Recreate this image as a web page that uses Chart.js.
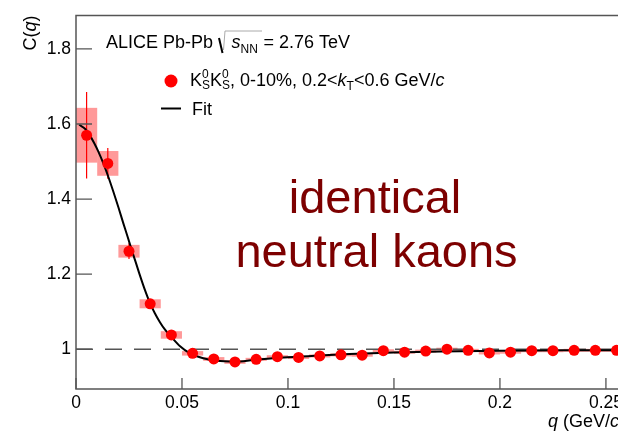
<!DOCTYPE html>
<html><head><meta charset="utf-8">
<script src="https://cdn.jsdelivr.net/npm/chart.js@4/dist/chart.umd.min.js"></script>
<style>
html,body{margin:0;padding:0;overflow:hidden;background:#fff;}
#wrap{width:650px;height:432px;}
</style></head><body>
<div id="wrap"><canvas id="c" width="650" height="432"></canvas></div>
<script>
// ---- data ----
const qCenters = [0.005,0.015,0.025,0.035,0.045,0.055,0.065,0.075,0.085,0.095,0.105,0.115,0.125,0.135,0.145,0.155,0.165,0.175,0.185,0.195,0.205,0.215,0.225,0.235,0.245,0.255];
const cValues  = [1.570,1.495,1.261,1.121,1.038,0.989,0.974,0.966,0.973,0.980,0.978,0.982,0.985,0.984,0.996,0.992,0.995,1.000,0.997,0.990,0.992,0.996,0.996,0.997,0.997,0.997];
const statErr  = [0.115,0.041,0.021,0.012,0.008,0.006,0.005,0.005,0.004,0.004,0.004,0.004,0.004,0.004,0.004,0.004,0.004,0.004,0.004,0.004,0.004,0.004,0.004,0.004,0.004,0.004];
const sysErr   = [0.073,0.033,0.017,0.012,0.010,0.006,0.005,0.005,0.004,0.004,0.004,0.004,0.004,0.004,0.004,0.004,0.004,0.004,0.004,0.004,0.004,0.004,0.004,0.004,0.004,0.004];
const binHalfWidth = 0.005;
const fitQ = [0.0015,0.0045,0.0066,0.0085,0.0105,0.0129,0.0152,0.0176,0.02,0.0223,0.0245,0.0263,0.0285,0.0302,0.0325,0.0349,0.0372,0.0396,0.042,0.0448,0.0491,0.0538,0.060,0.0664,0.075,0.0836,0.0978,0.115,0.129,0.15,0.172,0.2,0.23,0.259];
const fitC = [1.598,1.586,1.569,1.550,1.527,1.495,1.460,1.420,1.378,1.336,1.297,1.264,1.226,1.196,1.158,1.123,1.096,1.072,1.052,1.034,1.008,0.989,0.976,0.969,0.967,0.971,0.978,0.983,0.987,0.991,0.994,0.996,0.997,0.997];
const refLevel = 1;
const xTicks = [0,0.05,0.1,0.15,0.2,0.25];
const xTickLabels = ['0','0.05','0.1','0.15','0.2','0.25'];
const yTicks = [1,1.2,1.4,1.6,1.8];
const yTickLabels = ['1','1.2','1.4','1.6','1.8'];
const xRange = [0,0.259];
const yRange = [0.894,1.889];

const FONT = '"Liberation Sans", Arial, sans-serif';
function f(size, italic){ return (italic?'italic ':'') + size + 'px ' + FONT; }

function drawRuns(ctx, x, y, runs){
  for (const r of runs){
    if (r.stack){
      let w = 0;
      for (const s of r.stack){
        ctx.font = s.font; ctx.fillText(s.t, x, y + (s.dy||0));
        w = Math.max(w, ctx.measureText(s.t).width);
      }
      x += w;
    } else {
      ctx.font = r.font; ctx.fillText(r.t, x, y + (r.dy||0));
      x += ctx.measureText(r.t).width;
    }
  }
  return x;
}
function runsWidth(ctx, runs){
  let w=0; for(const r of runs){ctx.font=r.font; w+=ctx.measureText(r.t).width;} return w;
}

const decor = {
  id:'decor',
  beforeDatasetsDraw(chart){
    const {ctx, chartArea:a, scales:{x:xs, y:ys}} = chart;
    ctx.save();
    ctx.beginPath(); ctx.rect(a.left, a.top, a.right-a.left, a.bottom-a.top); ctx.clip();
    ctx.fillStyle = 'rgba(255,0,0,0.4)';
    qCenters.forEach((q,i)=>{
      const x0 = xs.getPixelForValue(q-binHalfWidth), x1 = xs.getPixelForValue(q+binHalfWidth);
      const y0 = ys.getPixelForValue(cValues[i]+sysErr[i]), y1 = ys.getPixelForValue(cValues[i]-sysErr[i]);
      ctx.fillRect(x0, y0, x1-x0, y1-y0);
    });
    ctx.strokeStyle = '#ff0000'; ctx.lineWidth = 1.2;
    qCenters.forEach((q,i)=>{
      const x = xs.getPixelForValue(q);
      ctx.beginPath();
      ctx.moveTo(x, ys.getPixelForValue(cValues[i]-statErr[i]));
      ctx.lineTo(x, ys.getPixelForValue(cValues[i]+statErr[i]));
      ctx.stroke();
    });
    ctx.restore();
  },
  afterDraw(chart){
    const {ctx, chartArea:a, scales:{x:xs, y:ys}} = chart;
    ctx.save();
    // frame
    ctx.strokeStyle = '#555'; ctx.lineWidth = 1.5;
    ctx.beginPath();
    ctx.moveTo(a.right, a.top); ctx.lineTo(a.left, a.top); ctx.lineTo(a.left, a.bottom); ctx.lineTo(a.right, a.bottom); ctx.lineTo(a.right, a.top);
    ctx.stroke();
    ctx.lineWidth = 1.3;
    ctx.beginPath();
    yTicks.forEach(v=>{ const y = ys.getPixelForValue(v); ctx.moveTo(a.left, y); ctx.lineTo(a.left+16, y); });
    xTicks.forEach(v=>{ const x = xs.getPixelForValue(v); ctx.moveTo(x, a.bottom); ctx.lineTo(x, a.bottom-11); });
    ctx.stroke();

    ctx.fillStyle = '#000'; ctx.textBaseline = 'alphabetic'; ctx.textAlign = 'left';
    // Y title
    ctx.save();
    ctx.translate(36, a.top);
    ctx.rotate(-Math.PI/2);
    const yRuns = [{t:'C(',font:f(18)},{t:'q',font:f(18,true)},{t:')',font:f(18)}];
    drawRuns(ctx, -runsWidth(ctx,yRuns), 0, yRuns);
    ctx.restore();
    // X title
    const xRuns = [{t:'q',font:f(18,true)},{t:' (GeV/',font:f(18)},{t:'c',font:f(18,true)},{t:')',font:f(18)}];
    drawRuns(ctx, a.right - runsWidth(ctx,xRuns), 427, xRuns);

    // ALICE header
    ctx.font = f(18); ctx.fillText('ALICE Pb-Pb', 106, 48);
    ctx.strokeStyle = '#000'; ctx.lineWidth = 2;
    ctx.beginPath(); ctx.moveTo(219, 38); ctx.lineTo(222.5, 53); ctx.stroke();
    ctx.lineWidth = 1; ctx.strokeStyle = '#aaa';
    ctx.beginPath(); ctx.moveTo(223.5, 50); ctx.lineTo(225, 31); ctx.lineTo(262, 31); ctx.stroke();
    drawRuns(ctx, 231.5, 48, [{t:'s',font:f(18,true)},{t:'NN',font:f(12),dy:5}]);
    ctx.font = f(18); ctx.fillText('= 2.76 TeV', 263.5, 48);

    // legend
    ctx.fillStyle = '#ff0000';
    ctx.beginPath(); ctx.arc(171, 81, 6.5, 0, Math.PI*2); ctx.fill();
    ctx.fillStyle = '#000';
    drawRuns(ctx, 190, 86, [
      {t:'K',font:f(18)},
      {stack:[{t:'0',font:f(12),dy:-8},{t:'S',font:f(12),dy:3}]},
      {t:'K',font:f(18)},
      {stack:[{t:'0',font:f(12),dy:-8},{t:'S',font:f(12),dy:3}]},
      {t:', 0-10%, 0.2<',font:f(18)},
      {t:'k',font:f(18,true)},
      {t:'T',font:f(12),dy:4},
      {t:'<0.6 GeV/',font:f(18)},
      {t:'c',font:f(18,true)}
    ]);
    ctx.strokeStyle = '#000'; ctx.lineWidth = 2;
    ctx.beginPath(); ctx.moveTo(161, 108.5); ctx.lineTo(181, 108.5); ctx.stroke();
    ctx.font = f(18); ctx.fillText('Fit', 192, 115);

    // big label
    ctx.fillStyle = '#7d0000'; ctx.textAlign = 'center'; ctx.font = f(47);
    ctx.fillText('identical', 375, 213);
    ctx.fillText('neutral kaons', 376.5, 267);
    ctx.restore();
  }
};

new Chart(document.getElementById('c'), {
  type:'scatter',
  data:{datasets:[
    {label:'data', data:qCenters.map((q,i)=>({x:q,y:cValues[i]})), pointRadius:5.5, pointBackgroundColor:'#ff0000', pointBorderWidth:0, pointHoverRadius:5.5, order:0},
    {label:'fit', data:fitQ.map((q,i)=>({x:q,y:fitC[i]})), showLine:true, borderColor:'#000', borderWidth:2, pointRadius:0, cubicInterpolationMode:'monotone', order:1},
    {label:'ref', data:[{x:xRange[0],y:refLevel},{x:xRange[1],y:refLevel}], showLine:true, borderColor:'#555', borderWidth:1.4, borderDash:[17,12], pointRadius:0, order:2}
  ]},
  options:{
    responsive:false, animation:false, devicePixelRatio:1,
    layout:{padding:{top:14,right:25,left:0,bottom:0}},
    plugins:{legend:{display:false}, tooltip:{enabled:false}},
    scales:{
      x:{type:'linear', min:xRange[0], max:xRange[1],
        grid:{display:false, drawTicks:false}, border:{display:false},
        afterBuildTicks:s=>{ s.ticks = xTicks.map(v=>({value:v})); },
        afterFit:s=>{ s.height = 43; },
        ticks:{padding:4, color:'#000', autoSkip:false, maxRotation:0, font:{family:FONT, size:17.5}, callback:(v,i)=>xTickLabels[i]}},
      y:{type:'linear', min:yRange[0], max:yRange[1],
        grid:{display:false, drawTicks:false}, border:{display:false},
        afterBuildTicks:s=>{ s.ticks = yTicks.map(v=>({value:v})); },
        afterFit:s=>{ s.width = 76; },
        ticks:{padding:5, color:'#000', autoSkip:false, font:{family:FONT, size:17.5}, callback:(v,i)=>yTickLabels[i]}}
    }
  },
  plugins:[decor]
});
</script>
</body></html>
